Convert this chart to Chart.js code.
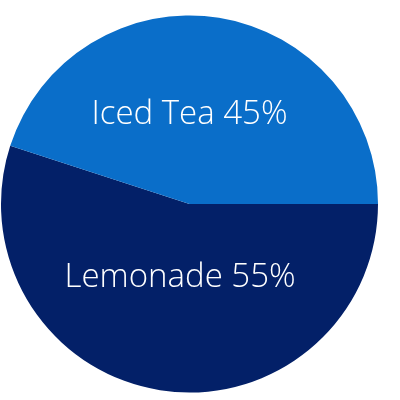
<!DOCTYPE html>
<html>
<head>
<meta charset="utf-8">
<script src="https://cdn.jsdelivr.net/npm/chart.js@4"></script>
<style>
    html, body { margin: 0; padding: 0; background: #ffffff; }
    #wrap { width: 400px; height: 400px; }
</style>
</head>
<body>
<div id="wrap"><canvas id="pieChart"></canvas></div>
<script>
// Chart data
const drinks = ['Lemonade', 'Iced Tea'];
const shares = [55, 45];
const sliceColors = ['#032068', '#0a6ec9'];

// Where each label sits, as a fraction of the radius from the centre
const labelOffsets = [
    { dx: -0.05, dy: 0.44 },
    { dx: 0.0, dy: -0.425 }
];

// Plugin to draw the labels inside the slices
const sliceLabels = {
    id: 'sliceLabels',
    afterDatasetsDraw(chart) {
        const ctx = chart.ctx;
        const arcs = chart.getDatasetMeta(0).data;
        ctx.save();
        ctx.fillStyle = '#ffffff';
        ctx.font = '300 33px "Open Sans"';
        ctx.textAlign = 'center';
        ctx.textBaseline = 'alphabetic';
        arcs.forEach((arc, i) => {
            const r = arc.outerRadius;
            const x = arc.x + labelOffsets[i].dx * r;
            const y = arc.y + labelOffsets[i].dy * r;
            ctx.fillText(`${drinks[i]} ${shares[i]}%`, x, y);
        });
        ctx.restore();
    }
};

var ctx = document.getElementById('pieChart').getContext('2d');
var pieChart = new Chart(ctx, {
    type: 'pie',
    data: {
        labels: drinks,
        datasets: [
            {
                data: shares,
                backgroundColor: sliceColors,
                borderWidth: 0
            }
        ]
    },
    options: {
        responsive: true,
        maintainAspectRatio: false,
        animation: false,
        rotation: 90, // start at 3 o'clock
        layout: {
            padding: { left: 1, right: 22, top: 15.5, bottom: 7.5 }
        },
        plugins: {
            legend: { display: false },
            tooltip: { enabled: false }
        }
    },
    plugins: [sliceLabels]
});
</script>
</body>
</html>
